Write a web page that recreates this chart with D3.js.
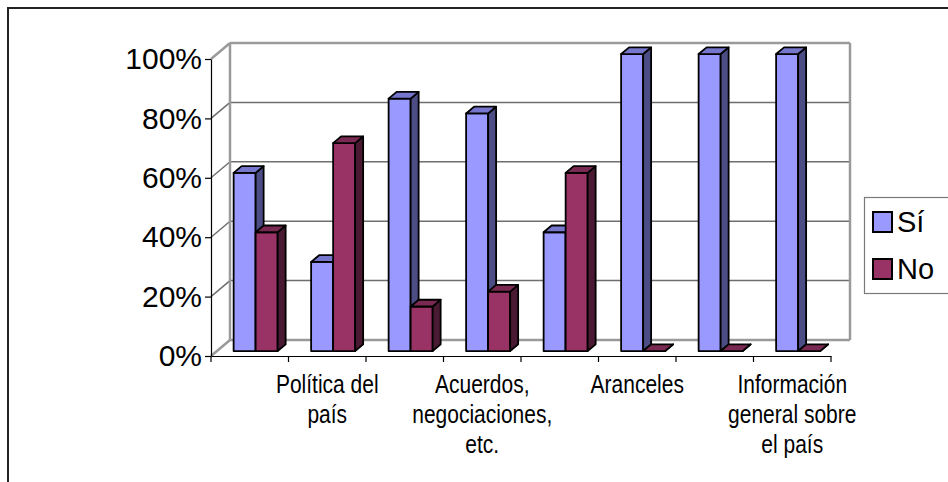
<!DOCTYPE html>
<html>
<head>
<meta charset="utf-8">
<script src="https://cdn.jsdelivr.net/npm/d3@7"></script>
<style>
  body { margin: 0; background: #fff; }
  svg { display: block; font-family: Arial, "Liberation Sans", sans-serif; }
</style>
</head>
<body>
<svg id="chart" width="948" height="482"></svg>
<script>
// data
const categories = ["", "Política del país", "", "Acuerdos, negociaciones, etc.", "", "Aranceles", "", "Información general sobre el país"];
const categoryLines = [[], ["Política del", "país"], [], ["Acuerdos,", "negociaciones,", "etc."], [], ["Aranceles"], [], ["Información", "general sobre", "el país"]];
const series = ["Sí", "No"];
const siValues = [60, 30, 85, 80, 40, 100, 100, 100];
const noValues = [40, 70, 15, 20, 60, 0, 0, 0];
const yTicks = [0, 20, 40, 60, 80, 100];

const colors = {
  "Sí": { front: "#9999ff", top: "#7676cc", side: "#4d4d85" },
  "No": { front: "#993366", top: "#7a2952", side: "#4a1a33" }
};

const svg = d3.select("#chart");

// outer frame
svg.append("rect")
  .attr("x", 8).attr("y", 8).attr("width", 1000).attr("height", 600)
  .attr("fill", "none").attr("stroke", "#222").attr("stroke-width", 2);

// scales (front plane)
const x0 = d3.scaleBand().domain(d3.range(categories.length)).range([211, 831]).padding(0);
const x1 = d3.scaleBand().domain(series).range([0, x0.bandwidth()]).paddingInner(0).paddingOuter(0.76);
const y = d3.scaleLinear().domain([0, 100]).range([356, 59]);

// depth offset for the 3d look
const DX = 19, DY = -16;
const proj = (xf, v, d) => [xf + d * DX, y(v) + d * DY];
const poly = pts => pts.map(p => p.join(",")).join(" ");

const xL = x0.range()[0], xR = x0.range()[1];

// walls
const walls = svg.append("g");
walls.append("polygon")
  .attr("points", poly([proj(xL, 0, 1), proj(xR, 0, 1), proj(xR, 100, 1), proj(xL, 100, 1)]))
  .attr("fill", "#fff");

yTicks.forEach(t => {
  const edge = (t === 0 || t === 100);
  walls.append("line")
    .attr("x1", proj(xL, t, 1)[0]).attr("y1", proj(xL, t, 1)[1])
    .attr("x2", proj(xR, t, 1)[0]).attr("y2", proj(xR, t, 1)[1])
    .attr("stroke", edge ? "#9a9a9a" : "#6e6e6e")
    .attr("stroke-width", edge ? 2.5 : 1.5);
  walls.append("line")
    .attr("x1", proj(xL, t, 0)[0]).attr("y1", proj(xL, t, 0)[1])
    .attr("x2", proj(xL, t, 1)[0]).attr("y2", proj(xL, t, 1)[1])
    .attr("stroke", edge ? "#9a9a9a" : "#6e6e6e")
    .attr("stroke-width", edge ? 2.5 : 1.5);
});
// wall vertical edges
[xL, xR].forEach(xx => {
  walls.append("line")
    .attr("x1", proj(xx, 0, 1)[0]).attr("y1", proj(xx, 0, 1)[1])
    .attr("x2", proj(xx, 100, 1)[0]).attr("y2", proj(xx, 100, 1)[1])
    .attr("stroke", "#9a9a9a").attr("stroke-width", 2.5);
});

// bars
const d0 = 0.31, d1 = 0.73;
const bars = svg.append("g").attr("stroke", "#000").attr("stroke-width", 1.8).attr("stroke-linejoin", "round");
categories.forEach((c, i) => {
  const vals = { "Sí": siValues[i], "No": noValues[i] };
  series.forEach(s => {
    const a = x0(i) + x1(s), b = a + x1.bandwidth(), v = vals[s];
    const g = bars.append("g");
    g.append("polygon")
      .attr("points", poly([proj(a, 0, d0), proj(b, 0, d0), proj(b, v, d0), proj(a, v, d0)]))
      .attr("fill", colors[s].front);
    g.append("polygon")
      .attr("points", poly([proj(b, 0, d0), proj(b, 0, d1), proj(b, v, d1), proj(b, v, d0)]))
      .attr("fill", colors[s].side);
    g.append("polygon")
      .attr("points", poly([proj(a, v, d0), proj(b, v, d0), proj(b, v, d1), proj(a, v, d1)]))
      .attr("fill", colors[s].top);
  });
});

// y axis
const yAxis = svg.append("g")
  .attr("transform", `translate(${xL},0)`)
  .call(d3.axisLeft(y).tickValues(yTicks).tickSize(6).tickSizeOuter(0).tickPadding(3).tickFormat(d => d + "%"));
yAxis.select(".domain").attr("stroke", "#000").attr("stroke-width", 1.2);
yAxis.selectAll(".tick line").attr("stroke", "#000").attr("stroke-width", 1.2);
yAxis.selectAll(".tick text")
  .attr("font-size", 30).attr("fill", "#000")
  .attr("font-family", "Arial, 'Liberation Sans', sans-serif");

// x axis
const xAxis = svg.append("g")
  .attr("transform", `translate(0,${y(0)})`)
  .call(d3.axisBottom(x0).tickSize(0).tickSizeOuter(0).tickFormat(""));
xAxis.select(".domain").attr("stroke", "#000").attr("stroke-width", 1.2);
d3.range(categories.length + 1).forEach(i => {
  const xx = xL + i * x0.step();
  xAxis.append("line")
    .attr("x1", xx).attr("x2", xx).attr("y1", 0).attr("y2", 6)
    .attr("stroke", "#000").attr("stroke-width", 1.2);
});

const labels = svg.append("g")
  .attr("font-size", 25).attr("fill", "#000").attr("text-anchor", "middle");
categoryLines.forEach((lines, i) => {
  const cx = x0(i) + x0.bandwidth() / 2;
  lines.forEach((ln, k) => {
    labels.append("text")
      .attr("transform", `translate(${cx},${393 + k * 30}) scale(0.84,1)`)
      .text(ln);
  });
});

// legend
const legend = svg.append("g");
legend.append("rect")
  .attr("x", 864.5).attr("y", 197.5).attr("width", 100).attr("height", 96)
  .attr("fill", "#fff").attr("stroke", "#7a7a7a").attr("stroke-width", 1.2);
series.forEach((s, k) => {
  const yy = 212 + k * 47;
  legend.append("rect")
    .attr("x", 873).attr("y", yy).attr("width", 19).attr("height", 20)
    .attr("fill", colors[s].front).attr("stroke", "#000").attr("stroke-width", 2);
  legend.append("text")
    .attr("x", 897).attr("y", yy + 20)
    .attr("font-size", 29).attr("fill", "#000")
    .text(s);
});
</script>
</body>
</html>
